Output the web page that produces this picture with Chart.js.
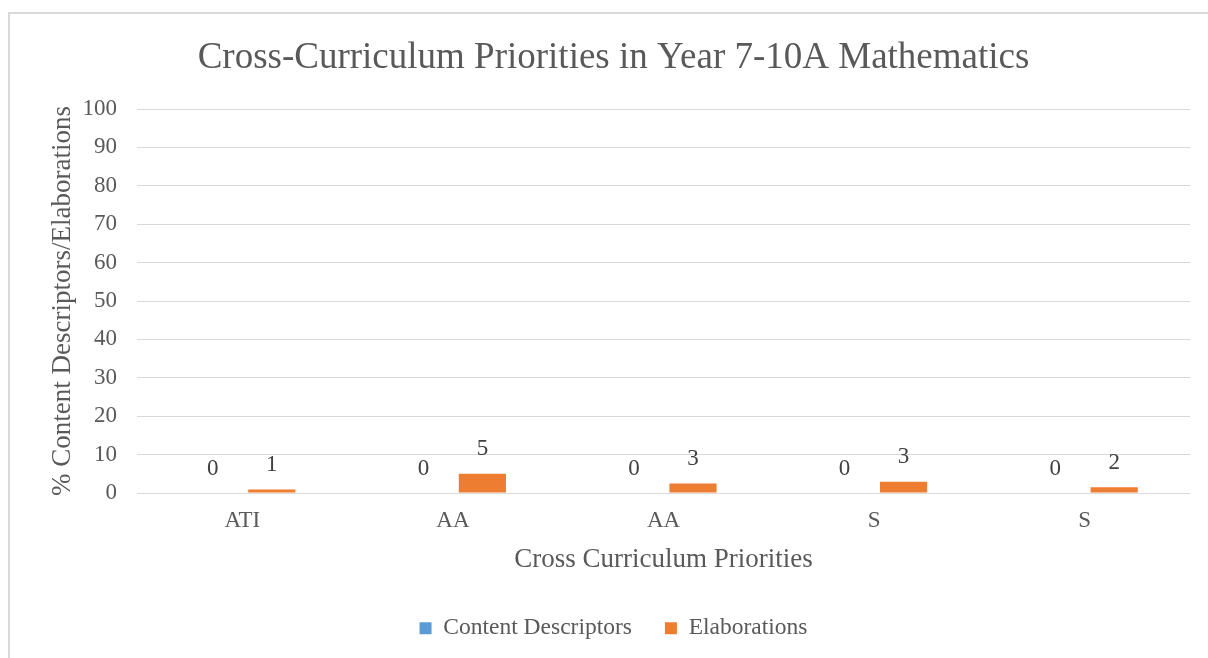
<!DOCTYPE html>
<html>
<head>
<meta charset="utf-8">
<script src="https://cdn.jsdelivr.net/npm/chart.js@4.4.1/dist/chart.umd.min.js"></script>
<style>
  html, body { margin: 0; padding: 0; background: #ffffff; overflow: hidden; }
  #frame {
    position: absolute; left: 8px; top: 12px;
    width: 1230px; height: 680px;
    border: 2px solid #d9d9d9;
  }
  #wrap { position: absolute; left: 0; top: 0; width: 1208px; height: 658px; }
</style>
</head>
<body>
<div id="frame"></div>
<div id="wrap"><canvas id="cpChart" width="1208" height="658"></canvas></div>
<script>
// categories and series
const priorities = ['ATI', 'AA', 'AA', 'S', 'S'];
const contentDescriptors = [0, 0, 0, 0, 0];
const elaborations = [0.9, 5, 2.5, 2.9, 1.5];
const yTicks = [0, 10, 20, 30, 40, 50, 60, 70, 80, 90, 100];

const serif = "'Liberation Serif', 'Times New Roman', serif";
const grey = '#595959';

// values written above each bar, rounded like the source sheet
const barLabels = {
  id: 'barLabels',
  afterDatasetsDraw(chart) {
    const ctx = chart.ctx;
    ctx.save();
    ctx.font = '23px ' + serif;
    ctx.fillStyle = '#404040';
    ctx.textAlign = 'center';
    ctx.textBaseline = 'bottom';
    chart.data.datasets.forEach(function(ds, i) {
      const meta = chart.getDatasetMeta(i);
      meta.data.forEach(function(bar, j) {
        ctx.fillText(Math.round(ds.data[j]).toString(), bar.x, bar.y - 13);
      });
    });
    ctx.restore();
  }
};

const ctx = document.getElementById('cpChart').getContext('2d');
new Chart(ctx, {
  type: 'bar',
  data: {
    labels: priorities,
    datasets: [
      {
        label: 'Content Descriptors',
        data: contentDescriptors,
        backgroundColor: '#5B9BD5',
        categoryPercentage: 0.56,
        barPercentage: 0.8
      },
      {
        label: 'Elaborations',
        data: elaborations,
        backgroundColor: '#ED7D31',
        categoryPercentage: 0.56,
        barPercentage: 0.8
      }
    ]
  },
  options: {
    responsive: false,
    animation: false,
    layout: { padding: { left: 37, right: 18, top: 0, bottom: 8 } },
    plugins: {
      title: {
        display: true,
        text: 'Cross-Curriculum Priorities in Year 7-10A Mathematics',
        color: grey,
        font: { family: serif, size: 37, weight: 'normal' },
        padding: { top: 36, bottom: 28.6 }
      },
      legend: {
        position: 'bottom',
        labels: {
          color: grey,
          font: { family: serif, size: 23.5 },
          boxWidth: 12,
          boxHeight: 12,
          padding: 33
        }
      },
      tooltip: { enabled: false }
    },
    scales: {
      x: {
        grid: { display: false },
        border: { display: false },
        ticks: { color: grey, font: { family: serif, size: 23 }, padding: 6 },
        title: {
          display: true,
          text: 'Cross Curriculum Priorities',
          color: grey,
          font: { family: serif, size: 27 },
          padding: { top: 0, bottom: 7.3 }
        },
        afterFit(scale) { scale.height = 90.5; }
      },
      y: {
        min: 0,
        max: 100,
        afterBuildTicks(scale) { scale.ticks = yTicks.map(v => ({ value: v })); },
        grid: { color: '#d9d9d9', lineWidth: 1, drawTicks: false },
        border: { display: false },
        ticks: { color: grey, font: { family: serif, size: 23 }, padding: 20 },
        title: {
          display: true,
          text: '% Content Descriptors/Elaborations',
          color: grey,
          font: { family: serif, size: 27 },
          padding: { top: 10, bottom: 0 }
        },
        afterFit(scale) { scale.width = 100; }
      }
    }
  },
  plugins: [barLabels]
});
</script>
</body>
</html>
